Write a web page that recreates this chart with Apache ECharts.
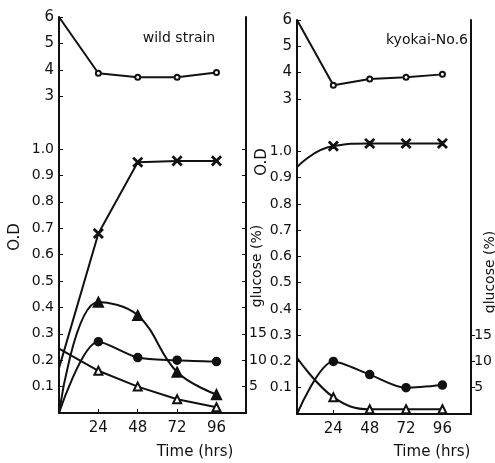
<!DOCTYPE html>
<html>
<head>
<meta charset="utf-8">
<script src="https://cdn.jsdelivr.net/npm/echarts@6/dist/echarts.min.js"></script>
<style>
html,body{margin:0;padding:0;background:#fff;}
#chart{width:495px;height:463px;}
</style>
</head>
<body>
<div id="chart"></div>
<script>
// time axis (hrs)
var hours = [0, 24, 48, 72, 96];
var timeTicks = [24, 48, 72, 96];
var odTicks = [0.1, 0.2, 0.3, 0.4, 0.5, 0.6, 0.7, 0.8, 0.9, 1.0];
var phTicks = [3, 4, 5, 6];
var glucoseTicks = [5, 10, 15];
var glucoseMinorTicks = [5, 10, 15, 20, 25, 30, 35, 40, 45, 50];

// wild strain
var wildPH = [6, 3.87, 3.72, 3.72, 3.9];
var wildCross = [0.17, 0.68, 0.95, 0.955, 0.955];
var wildTriangle = [0, 0.42, 0.37, 0.155, 0.07];
var wildDot = [0, 0.27, 0.21, 0.2, 0.195];
var wildGlucose = [12.2, 8, 5, 2.6, 1.1];

// kyokai-No.6
var kyoPH = [6, 3.52, 3.75, 3.82, 3.93];
var kyoCross = [0.94, 1.02, 1.03, 1.03, 1.03];
var kyoDot = [0, 0.2, 0.15, 0.1, 0.11];
var kyoGlucose = [10.7, 3.2, 0.9, 0.9, 0.9];

var ink = '#111';
var font = 'DejaVu Sans';
var crossPath = 'path://M0,1L1,0L5,4L9,0L10,1L6,5L10,9L9,10L5,6L1,10L0,9L4,5Z';

var chart = echarts.init(document.getElementById('chart'));

// 每条线：第一个点不画标记
function line(values, xIdx, yIdx, symbol, size, smooth) {
    return {
        type: 'line',
        xAxisIndex: xIdx,
        yAxisIndex: yIdx,
        smooth: smooth,
        symbolSize: size,
        lineStyle: {color: ink, width: 2},
        itemStyle: {color: ink, borderColor: ink, borderWidth: 1.5},
        data: hours.map(function (h, i) {
            return {value: [h, values[i]], symbol: i == 0 ? 'none' : symbol};
        }),
        animation: false
    };
}

function timeAxis(grid, max) {
    return {
        type: 'value', gridIndex: grid, min: 0, max: max,
        axisLine: {lineStyle: {color: ink, width: 2}},
        axisTick: {inside: true, length: 4, customValues: timeTicks, lineStyle: {color: ink}},
        axisLabel: {customValues: timeTicks, color: ink, fontSize: 15, fontFamily: font, margin: 8},
        splitLine: {show: false}
    };
}

function odAxis(grid) {
    return {
        type: 'value', gridIndex: grid, position: 'left', min: 0, max: 1.5,
        axisLine: {show: true, lineStyle: {color: ink, width: 2}},
        axisTick: {inside: true, length: 4, customValues: odTicks, lineStyle: {color: ink}},
        axisLabel: {customValues: odTicks, color: ink, fontSize: 14, fontFamily: font, margin: 5,
            formatter: function (v) { return v.toFixed(1); }},
        splitLine: {show: false}
    };
}

function phAxis(grid) {
    return {
        type: 'value', gridIndex: grid, position: 'left', min: -9, max: 6,
        axisLine: {show: false},
        axisTick: {inside: true, length: 4, customValues: phTicks, lineStyle: {color: ink}},
        axisLabel: {customValues: phTicks, color: ink, fontSize: 15, fontFamily: font, margin: 5},
        splitLine: {show: false}
    };
}

function glucoseAxis(grid, ticks, inside) {
    return {
        type: 'value', gridIndex: grid, position: 'right', min: 0, max: 75,
        axisLine: {show: true, lineStyle: {color: ink, width: 2}},
        axisTick: {inside: inside, length: 4, customValues: ticks, lineStyle: {color: ink}},
        axisLabel: {customValues: glucoseTicks, color: ink, fontSize: 14, fontFamily: font, margin: 3},
        splitLine: {show: false}
    };
}

function label(text, x, y, size, rotate) {
    return {
        type: 'text', x: x, y: y, rotation: rotate ? Math.PI / 2 : 0,
        style: {text: text, fill: ink, font: size + 'px "' + font + '"', textAlign: 'center', textVerticalAlign: 'middle'}
    };
}

var option = {
    backgroundColor: '#fff',
    grid: [
        {left: 59, top: 17, width: 187, height: 396},
        {left: 297, top: 20, width: 183, height: 394}
    ],
    xAxis: [timeAxis(0, 114), timeAxis(1, 115)],
    yAxis: [
        odAxis(0), phAxis(0), glucoseAxis(0, glucoseMinorTicks, true),
        odAxis(1), phAxis(1), glucoseAxis(1, glucoseTicks, false)
    ],
    series: [
        line(wildPH, 0, 1, 'emptyCircle', 5, false),
        line(wildCross, 0, 0, crossPath, 9, false),
        line(wildTriangle, 0, 0, 'triangle', 10, 0.4),
        line(wildDot, 0, 0, 'circle', 8, 0.3),
        line(wildGlucose, 0, 2, 'emptyTriangle', 8, false),
        line(kyoPH, 1, 4, 'emptyCircle', 5, false),
        line(kyoCross, 1, 3, crossPath, 9, 0.5),
        line(kyoDot, 1, 3, 'circle', 8, 0.3),
        line(kyoGlucose, 1, 5, 'emptyTriangle', 8, 0.4)
    ],
    graphic: [
        label('wild strain', 179, 38, 14, false),
        label('kyokai-No.6', 427, 40, 14, false),
        label('Time (hrs)', 195, 452, 15, false),
        label('Time (hrs)', 432, 452, 15, false),
        label('O.D', 15, 237, 15, true),
        label('O.D', 262, 162, 15, true),
        label('glucose (%)', 257, 266, 14, true),
        label('glucose (%)', 490, 272, 14, true)
    ]
};
chart.setOption(option);
</script>
</body>
</html>
